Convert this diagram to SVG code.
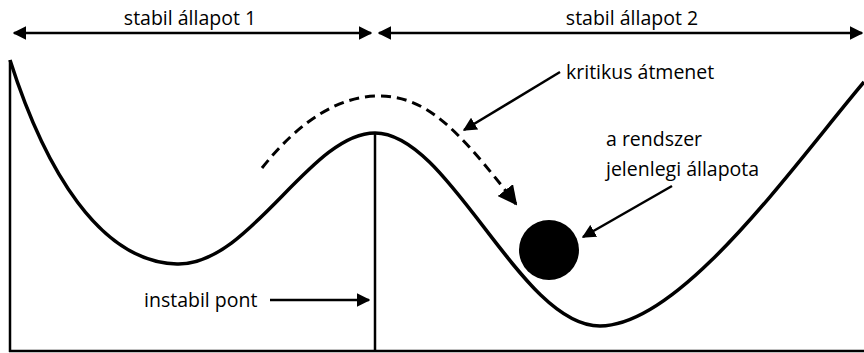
<svg xmlns="http://www.w3.org/2000/svg" width="864" height="353" viewBox="0 0 864 353">
<style>
text{font-family:"Open Sans","Noto Sans",sans-serif;font-size:19.5px;fill:#000}
.ln{stroke:#000;stroke-width:2.5;fill:none}
.cv{stroke:#000;stroke-width:3.5;fill:none}
</style>
<defs>
<marker id="ah" viewBox="0 0 10 10" refX="9" refY="5" markerWidth="5.5" markerHeight="5.5" orient="auto-start-reverse" markerUnits="strokeWidth"><path d="M0,0L10,5L0,10z" fill="#000"/></marker>
<marker id="ah2" viewBox="0 0 10 10" refX="9" refY="5" markerWidth="6.5" markerHeight="6.5" orient="auto" markerUnits="strokeWidth"><path d="M0,0L10,5L0,10z" fill="#000"/></marker>
</defs>
<g id="axes">
<line class="ln" x1="10" y1="60" x2="10" y2="352"/>
<line class="ln" x1="9" y1="351" x2="864" y2="351"/>
<line class="ln" x1="375" y1="133" x2="375" y2="352"/>
</g>
<g id="landscape">
<path class="cv" d="M10,60 C45,170 100,262 177,264 C250,266 310,133 375,133 C450,133 520,326 600,326 C680,326 790,170 864,82"/>
</g>
<g id="ball"><circle cx="549" cy="250" r="30" fill="#000"/></g>
<g id="labels">
<text x="190" y="25" text-anchor="middle">stabil állapot 1</text>
<text x="632" y="25" text-anchor="middle">stabil állapot 2</text>
<text x="566" y="79">kritikus átmenet</text>
<text x="606" y="146">a rendszer</text>
<text x="606" y="176">jelenlegi állapota</text>
<text x="144" y="307">instabil pont</text>
</g>
<g id="connectors">
<line class="ln" x1="14" y1="33" x2="371" y2="33" marker-start="url(#ah)" marker-end="url(#ah)"/>
<line class="ln" x1="379" y1="33" x2="862" y2="33" marker-start="url(#ah)" marker-end="url(#ah)"/>
<line class="ln" x1="560" y1="72" x2="464" y2="130" marker-end="url(#ah)"/>
<line class="ln" x1="672" y1="186" x2="583" y2="237" marker-end="url(#ah)"/>
<line class="ln" x1="270" y1="300" x2="369" y2="300" marker-end="url(#ah)"/>
<path d="M262,168 C300,120 340,96 378,96 C425,96 455,125 516,204" stroke="#000" stroke-width="3" fill="none" stroke-dasharray="10,6" marker-end="url(#ah2)"/>
</g>
</svg>
